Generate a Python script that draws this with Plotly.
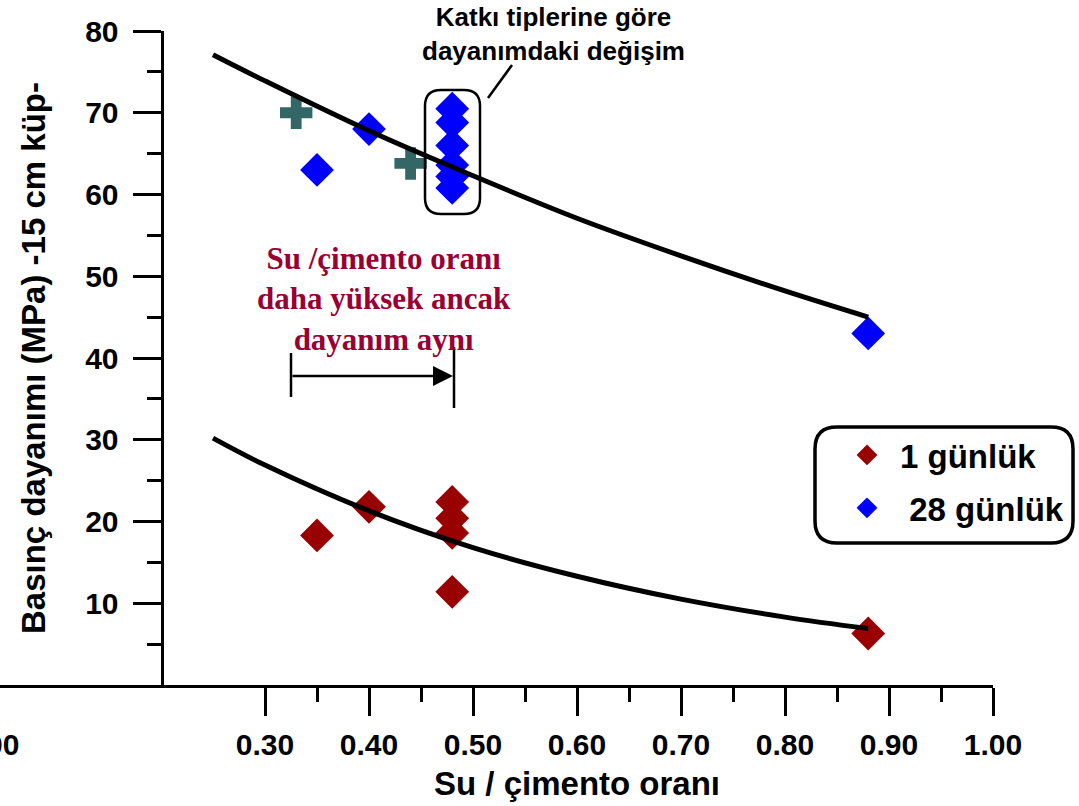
import plotly.graph_objects as go

# ---------------- data ----------------
wc_28 = [0.35, 0.40, 0.48, 0.48, 0.48, 0.48, 0.48, 0.48, 0.88]
fc_28 = [63.0, 68.0, 70.5, 68.8, 66.0, 63.6, 62.2, 60.8, 43.0]
wc_1 = [0.35, 0.40, 0.48, 0.48, 0.48, 0.48, 0.88]
fc_1 = [18.3, 21.8, 22.4, 20.4, 18.6, 11.4, 6.3]
wc_cross = [0.33, 0.44]
fc_cross = [70.0, 63.8]
curve_wc = [0.25, 0.30, 0.40, 0.50, 0.60, 0.70, 0.80, 0.88]
curve_28 = [77.1, 73.9, 67.8, 62.3, 57.1, 52.5, 48.2, 45.0]
curve_1 = [30.2, 26.9, 21.3, 16.8, 13.3, 10.5, 8.3, 6.9]
x_ticks = [0.30, 0.40, 0.50, 0.60, 0.70, 0.80, 0.90, 1.00]
x_tick_labels = ["0.30", "0.40", "0.50", "0.60", "0.70", "0.80", "0.90", "1.00"]
x_minor = [0.35, 0.45, 0.55, 0.65, 0.75, 0.85, 0.95]
y_ticks = [10, 20, 30, 40, 50, 60, 70, 80]
y_minor = [5, 15, 25, 35, 45, 55, 65, 75]

W, H = 1079, 806
ML, MR, MT, MB = 0, 86, 31, 121
PW, PH = W - ML - MR, H - MT - MB
X_LEFT = 0.2 - 161 / 1040.0


def px(x):
    return (x - ML) / PW


def py(y):
    return (H - MB - y) / PH


def rrect(x0, y0, x1, y1, r):
    pts = []
    pts.append(f"M {px(x0 + r)},{py(y0)}")
    pts.append(f"L {px(x1 - r)},{py(y0)}")
    pts.append(f"Q {px(x1)},{py(y0)} {px(x1)},{py(y0 + r)}")
    pts.append(f"L {px(x1)},{py(y1 - r)}")
    pts.append(f"Q {px(x1)},{py(y1)} {px(x1 - r)},{py(y1)}")
    pts.append(f"L {px(x0 + r)},{py(y1)}")
    pts.append(f"Q {px(x0)},{py(y1)} {px(x0)},{py(y1 - r)}")
    pts.append(f"L {px(x0)},{py(y0 + r)}")
    pts.append(f"Q {px(x0)},{py(y0)} {px(x0 + r)},{py(y0)}")
    pts.append("Z")
    return " ".join(pts)


FONT = "Liberation Sans, Arial, sans-serif"
SERIF = "Liberation Serif, Times New Roman, serif"

fig = go.Figure()
fig.add_trace(go.Scatter(x=wc_1, y=fc_1, mode="markers", name="1 günlük", legendgroup="g1",
                         marker=dict(symbol="diamond", size=26, color="#990000", line=dict(width=0))))
fig.add_trace(go.Scatter(x=wc_28, y=fc_28, mode="markers", name="\u00a028 günlük", legendgroup="g28",
                         marker=dict(symbol="diamond", size=26, color="#0000FF", line=dict(width=0))))
fig.add_trace(go.Scatter(x=wc_cross, y=fc_cross, mode="markers", showlegend=False,
                         marker=dict(symbol="cross", size=27, color="#336666", line=dict(width=0))))
fig.add_trace(go.Scatter(x=curve_wc, y=curve_28, mode="lines", showlegend=False,
                         line=dict(color="black", width=5, shape="spline")))
fig.add_trace(go.Scatter(x=curve_wc, y=curve_1, mode="lines", showlegend=False,
                         line=dict(color="black", width=5, shape="spline")))

axis_common = dict(showgrid=False, zeroline=False, showline=True, linecolor="black", linewidth=3,
                   ticks="outside", ticklen=28, tickwidth=3, tickcolor="black")

fig.update_layout(
    width=W, height=H, margin=dict(l=ML, r=MR, t=MT, b=MB),
    paper_bgcolor="white", plot_bgcolor="white",
    xaxis=dict(range=[X_LEFT, 1.0], tickvals=x_ticks, ticktext=x_tick_labels,
               tickfont=dict(family=FONT, size=30, color="black", weight="bold"),
               minor=dict(tickvals=x_minor, ticklen=14, tickwidth=3, tickcolor="black", ticks="outside"),
               ticklabelstandoff=3, **axis_common),
    yaxis=dict(range=[0, 80], tickvals=y_ticks, anchor="free", position=px(161.5),
               tickfont=dict(family=FONT, size=30, color="black", weight="bold"),
               minor=dict(tickvals=y_minor, ticklen=14, tickwidth=3, tickcolor="black", ticks="outside"),
               ticklabelstandoff=8,
               title=dict(text="Basınç dayanımı (MPa) -15 cm küp-", standoff=28,
                          font=dict(family=FONT, size=33, color="black", weight="bold")),
               **axis_common),
    legend=dict(x=px(834), y=py(427), xanchor="left", yanchor="top", bgcolor="rgba(0,0,0,0)",
                font=dict(family=FONT, size=33, color="black", weight="bold"), borderwidth=0,
                itemwidth=56, traceorder="grouped", tracegroupgap=7),
    showlegend=True,
)

shapes = [
    dict(type="path", xref="paper", yref="paper", path=rrect(425, 90, 480, 214, 16),
         line=dict(color="black", width=2.5)),
    dict(type="line", xref="paper", yref="paper", x0=px(488), y0=py(98), x1=px(512), y1=py(65),
         line=dict(color="black", width=2.5)),
    dict(type="line", xref="paper", yref="paper", x0=px(291), y0=py(353), x1=px(291), y1=py(397),
         line=dict(color="black", width=2.5)),
    dict(type="line", xref="paper", yref="paper", x0=px(454), y0=py(347), x1=px(454), y1=py(408),
         line=dict(color="black", width=2.5)),
    dict(type="path", xref="paper", yref="paper", path=rrect(815, 427, 1073, 543, 22),
         line=dict(color="black", width=3.5), layer="below"),
]
fig.update_layout(shapes=shapes)

annotations = [
    dict(xref="paper", yref="paper", x=px(553), y=py(34), xanchor="center", yanchor="middle",
         text="Katkı tiplerine göre<br>dayanımdaki değişim", showarrow=False,
         font=dict(family=FONT, size=26, color="black", weight="bold")),
    dict(xref="paper", yref="paper", x=px(384), y=py(299), xanchor="center", yanchor="middle",
         text="Su /çimento oranı<br>daha yüksek ancak<br>dayanım aynı", showarrow=False,
         font=dict(family=SERIF, size=31, color="#990033", weight="bold")),
    dict(xref="paper", yref="paper", x=px(453), y=py(376), ax=-162, ay=0, text="",
         showarrow=True, arrowhead=2, arrowsize=1.6, arrowwidth=2.5, arrowcolor="black", standoff=0),
    dict(xref="paper", yref="paper", x=px(577), y=py(783), xanchor="center", yanchor="middle",
         text="Su / çimento oranı", showarrow=False,
         font=dict(family=FONT, size=33, color="black", weight="bold")),
    dict(xref="paper", yref="paper", x=px(21), y=py(745), xanchor="right", yanchor="middle",
         text="0.00", showarrow=False,
         font=dict(family=FONT, size=30, color="black", weight="bold")),
]
fig.update_layout(annotations=annotations)

fig.write_html("out.html")
